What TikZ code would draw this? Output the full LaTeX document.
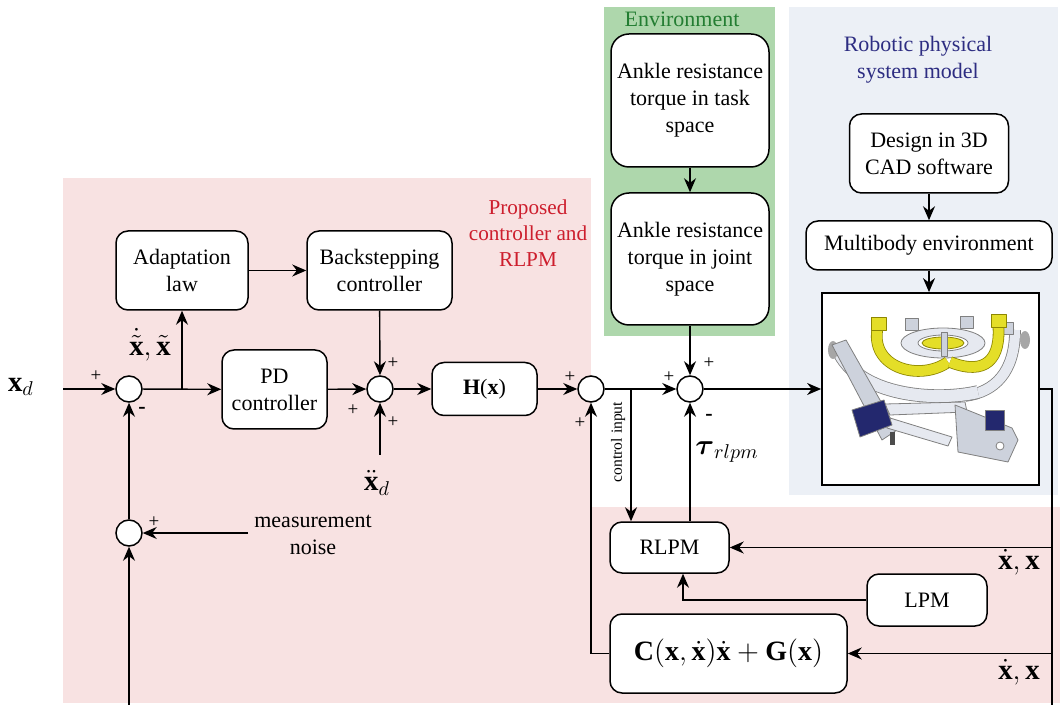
\documentclass[tikz,border=0pt]{standalone}
\usepackage{amsmath}
\usepackage{amssymb}
\usepackage{fontspec}
\setmainfont{Liberation Serif}
\usetikzlibrary{arrows.meta}
\tikzset{blk/.style = {draw, line width = 0.75, rounded corners = 6, fill = white, align = center, inner sep = 2, font = \fontsize{11}{13.5}\selectfont}}
\tikzset{sumc/.style = {draw, line width = 0.75, fill = white, circle, inner sep = 0, minimum size = 13}}
\tikzset{arr/.style = {-{Stealth[length = 7, width = 6]}}}
\tikzset{sgn/.style = {font = \fontsize{9.5}{10}\selectfont, inner sep = 0}}
\tikzset{lbl/.style = {align = center, inner sep = 0, font = \fontsize{11}{13.5}\selectfont}}
\definecolor{mpink}{RGB}{248, 226, 226}
\definecolor{mgreen}{RGB}{174, 215, 172}
\definecolor{mblue}{RGB}{236, 240, 246}
\definecolor{mred}{RGB}{205, 30, 45}
\definecolor{mdgreen}{RGB}{35, 125, 50}
\definecolor{mnavy}{RGB}{45, 45, 130}
\definecolor{rgrey}{RGB}{205, 210, 220}
\definecolor{rlight}{RGB}{230, 233, 240}
\definecolor{ryellow}{RGB}{228, 222, 40}
\definecolor{rblue}{RGB}{35, 40, 110}

\begin{document}
\begin{tikzpicture}[x = 0.5pt, y = -0.5pt, line width = 0.7]
  \useasboundingbox (0, 0) rectangle (1060, 705);
  % regions
  \fill[mpink] (63, 178) rectangle (591, 703);
  \fill[mpink] (591, 507) rectangle (1060, 703);
  \fill[mgreen] (604, 7) rectangle (775, 336);
  \fill[mblue] (789, 7) rectangle (1058, 495);

  \node[lbl, text = mred, font = \fontsize{10.6}{13}\selectfont] (lprop) at (528, 233) {Proposed\\controller and\\RLPM};
  \node[lbl, text = mdgreen] (lenv) at (682, 19) {Environment};
  \node[lbl, text = mnavy] (lrob) at (918, 60) {Robotic physical\\system model};

  % blocks
  \node[blk, minimum width = 66, minimum height = 39.5] (adapt) at (182, 270.5) {Adaptation\\law};
  \node[blk, minimum width = 72.5, minimum height = 39.5] (back) at (379.5, 270.5) {Backstepping\\controller};
  \node[blk, minimum width = 52.5, minimum height = 39.5] (pd) at (274.5, 389.5) {PD\\controller};
  \node[blk, minimum width = 52.5, minimum height = 26.5] (hx) at (484.5, 389) {\textbf{H}(\textbf{x})};
  \node[blk, minimum width = 79, minimum height = 66.5, rounded corners = 9] (task) at (690, 100.5) {Ankle resistance\\torque in task\\space};
  \node[blk, minimum width = 79, minimum height = 66, rounded corners = 9] (joint) at (690, 259) {Ankle resistance\\torque in joint\\space};
  \node[blk, minimum width = 79.5, minimum height = 39.5] (cad) at (929, 153.5) {Design in 3D\\CAD software};
  \node[blk, minimum width = 123, minimum height = 24.5] (multi) at (929, 245.5) {Multibody environment};
  \node[draw, line width = 0.9, fill = white, minimum width = 108.5, minimum height = 96] (robot) at (930.5, 389) {};
  \node[blk, minimum width = 59.5, minimum height = 25.5] (rlpm) at (669.5, 547.5) {RLPM};
  \node[blk, minimum width = 60, minimum height = 26] (lpm) at (927, 600) {LPM};
  \node[blk, minimum width = 118.5, minimum height = 39.5, font = \fontsize{14}{16}\selectfont] (cg) at (728.5, 653.5)
    {$\mathbf{C}(\mathbf{x},\dot{\mathbf{x}})\dot{\mathbf{x}}+\mathbf{G}(\mathbf{x})$};

  % robot sketch
  \begin{scope}[line join = round, line width = 0.4]
    \draw[double = rlight, double distance = 5, draw = gray] (1015, 330) .. controls (1015, 372) and (995, 392) .. (965, 396);
    \fill[gray!70] (1025, 340) ellipse (5 and 9);
    \draw[gray, fill = rlight, even odd rule] (943, 343) ellipse (42 and 15) (943, 343) ellipse (25 and 8);
    \draw[olive, fill = ryellow] (943, 343) ellipse (21 and 6);
    \foreach \bx/\by in {905/318, 960/316, 1000/322} {
      \draw[gray, fill = rgrey] (\bx, \by) rectangle ++(13, 12);
    }
    \draw[gray, fill = rgrey] (941, 332) rectangle (947, 356);
    \draw[double = ryellow, double distance = 5, draw = olive] (878, 326) .. controls (868, 368) and (920, 382) .. (948, 362);
    \draw[double = ryellow, double distance = 5, draw = olive] (998, 322) .. controls (1002, 360) and (985, 376) .. (950, 362);
    \draw[olive, fill = ryellow] (871, 317) rectangle (886, 330);
    \draw[olive, fill = ryellow] (991, 314) rectangle (1006, 327);
    \draw[double = rlight, double distance = 6, draw = gray] (838, 350) .. controls (858, 396) and (935, 402) .. (978, 392);
    \fill[gray!70] (833, 350) ellipse (5 and 9);
    \draw[gray, fill = rgrey] (832, 345) -- (846, 340) -- (897, 430) -- (882, 440) -- cycle;
    \draw[gray, fill = rlight] (885, 404) -- (965, 402) -- (967, 412) -- (890, 415) -- cycle;
    \draw[gray, fill = rlight] (890, 418) -- (952, 437) -- (948, 446) -- (887, 428) -- cycle;
    \draw[gray, fill = rblue] (852, 410) -- (884, 400) -- (892, 425) -- (860, 437) -- cycle;
    \fill[black!70] (890, 432) rectangle (895, 445);
    \draw[gray, fill = rgrey] (955, 405) -- (1012, 428) -- (1018, 440) -- (1008, 462) -- (958, 452) -- cycle;
    \draw[gray, fill = rblue] (985, 410) rectangle (1004, 430);
    \draw[gray, fill = white] (1000, 446) circle (4);
  \end{scope}

  % summing junctions
  \node[sumc] (s1) at (129, 389) {};
  \node[sumc] (s2) at (380, 389) {};
  \node[sumc] (s3) at (591, 389) {};
  \node[sumc] (s4) at (690, 389) {};
  \node[sumc] (sm) at (129, 533) {};

  \foreach \px/\py [count = \i] in {96/376, 393/363, 353/410, 393/422, 570/377, 580/423, 669/377, 709/363, 154/522} {
    \node[sgn] (pl\i) at (\px, \py) {+};
  }
  \foreach \px/\py [count = \i] in {142/410, 709/417} {
    \node[sgn, font = \fontsize{11}{11}\bfseries] (mi\i) at (\px, \py) {-};
  }

  % signal labels
  \node[inner sep = 0] (lxd) at (21, 387) {\Large $\mathbf{x}_d$};
  \node[inner sep = 0] (lerr) at (150, 345) {\Large $\dot{\tilde{\mathbf{x}}},\tilde{\mathbf{x}}$};
  \node[inner sep = 0] (lddx) at (377, 483) {\Large $\ddot{\mathbf{x}}_d$};
  \node[inner sep = 0] (ltau) at (727, 452) {\Large $\boldsymbol{\tau}_{rlpm}$};
  \node[inner sep = 0] (lv1) at (1019, 562) {\Large $\dot{\mathbf{x}}, \mathbf{x}$};
  \node[inner sep = 0] (lv2) at (1019, 672) {\Large $\dot{\mathbf{x}}, \mathbf{x}$};
  \node[inner sep = 0, rotate = 90, font = \fontsize{7.8}{9}\selectfont] (lctrl) at (618, 442) {control input};
  \node[lbl, align = center] (lnoise) at (313, 535) {measurement\\noise};

  \coordinate (xdin) at (63, 389);
  \coordinate (ddin) at (380, 455);
  \coordinate (noisein) at (248, 533);
  \coordinate (fbbot) at (129, 705);
  \coordinate (ctrl) at (631, 389);
  \coordinate (robout) at (1052, 389);
  \coordinate (rbot) at (1052, 705);

  % connectors
  \draw[arr] (xdin) -- (s1);
  \draw[arr] (s1) -- (pd);
  \draw[arr] (s1 -| adapt.south) -- (adapt);
  \draw[arr] (adapt) -- (back);
  \draw[arr] (back) -- (s2);
  \draw[arr] (pd) -- (s2);
  \draw[arr] (ddin) -- (s2);
  \draw[arr] (s2) -- (hx);
  \draw[arr] (hx) -- (s3);
  \draw[arr] (s3) -- (s4);
  \draw[arr] (ctrl) -- (ctrl |- rlpm.north);
  \draw[arr] (task) -- (joint);
  \draw[arr] (joint) -- (s4);
  \draw[arr] (s4) -- (robot);
  \draw[arr] (cad.south) -- (cad.south |- multi.north);
  \draw[arr] (multi.south) -- (multi.south |- robot.north);
  \draw (robot) -- (robout) -- (rbot);
  \draw[arr] (robout |- rlpm) -- (rlpm);
  \draw[arr] (robout |- cg) -- (cg);
  \draw[arr] (lpm.west) -| ([xshift = 6.75pt]rlpm.south);
  \draw[arr] ([xshift = 10.25pt]rlpm.north) -- (s4);
  \draw[arr] (cg.west) -| (s3);
  \draw[arr] (noisein) -- (sm);
  \draw[arr] (fbbot) -- (sm);
  \draw[arr] (sm) -- (s1);
\end{tikzpicture}
\end{document}
